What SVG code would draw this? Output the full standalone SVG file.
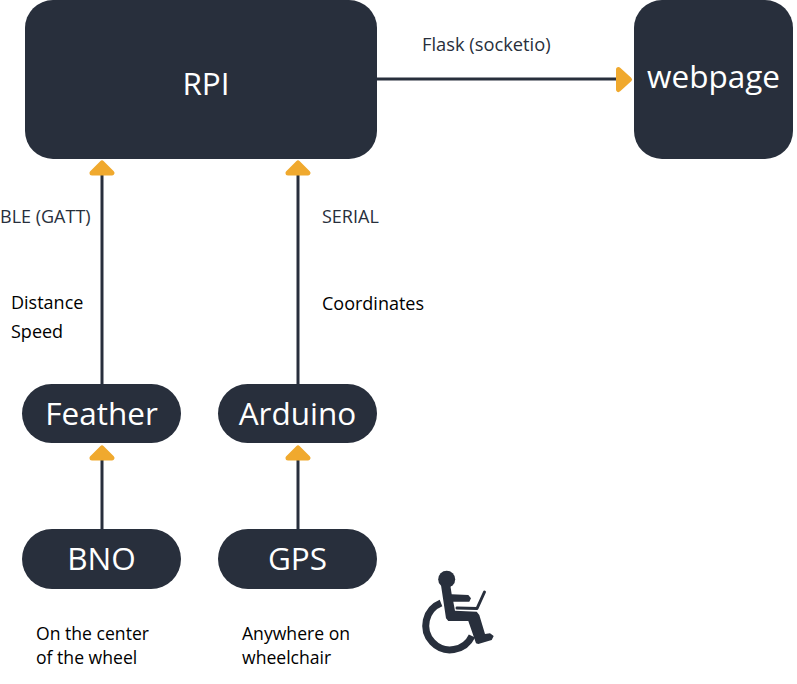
<svg xmlns="http://www.w3.org/2000/svg" width="797" height="684" viewBox="0 0 797 684">
<style>
.n{fill:#282f3c}
.t{font-family:"Open Sans","Noto Sans",sans-serif;fill:#fff;text-anchor:middle;font-size:31.500px}
.l{font-family:"Open Sans","Noto Sans",sans-serif;font-size:18px}
.s{font-size:17.600px}
.c{stroke:#282f3c;fill:none}
.a{fill:#f0a92e;stroke:#f0a92e;stroke-width:5;stroke-linejoin:round}
.g{fill:#282f3c}
</style>
<rect width="797" height="684" fill="#fff"/>
<g id="connectors">
<path class="c" stroke-width="3" d="M377 79H618"/><path class="a" d="M618.500 69.500L629.500 79.500L618.500 89.500Z"/>
<path class="c" stroke-width="3" d="M102 384V175"/><path class="a" d="M92 173L102 163L112 173Z"/>
<path class="c" stroke-width="3" d="M298 384V175"/><path class="a" d="M288 173L298 163L308 173Z"/>
<path class="c" stroke-width="3" d="M102 529V460"/><path class="a" d="M92 458L102 448L112 458Z"/>
<path class="c" stroke-width="3" d="M298 529V460"/><path class="a" d="M288 458L298 448L308 458Z"/>
</g>
<g id="rpi"><rect class="n" x="25" y="0" width="352" height="159" rx="28"/><text class="t" x="206" y="95">RPI</text></g>
<g id="webpage"><rect class="n" x="634" y="0" width="159" height="159" rx="28"/><text class="t" x="713.500" y="88">webpage</text></g>
<g id="feather"><rect class="n" x="22" y="384" width="159" height="59" rx="29.500"/><text class="t" x="101.500" y="425">Feather</text></g>
<g id="arduino"><rect class="n" x="218" y="384" width="159" height="59" rx="29.500"/><text class="t" x="297.500" y="425">Arduino</text></g>
<g id="bno"><rect class="n" x="22" y="529" width="159" height="60" rx="30"/><text class="t" x="101.500" y="570">BNO</text></g>
<g id="gps"><rect class="n" x="218" y="529" width="159" height="60" rx="30"/><text class="t" x="297.500" y="570">GPS</text></g>
<g id="labels">
<text class="l" x="422" y="51" fill="#282f3c" style="font-size:18.300px">Flask (socketio)</text>
<text class="l" x="0" y="223" fill="#282f3c">BLE (GATT)</text>
<text class="l" x="322" y="223" fill="#282f3c">SERIAL</text>
<text class="l" x="11" y="309" fill="#000">Distance</text>
<text class="l" x="11" y="338" fill="#000">Speed</text>
<text class="l" x="322" y="310" fill="#000">Coordinates</text>
<text class="l s" x="36" y="640" fill="#000">On the center</text>
<text class="l s" x="36" y="664" fill="#000">of the wheel</text>
<text class="l s" x="242" y="640" fill="#000">Anywhere on</text>
<text class="l s" x="242" y="664" fill="#000">wheelchair</text>
</g>
<g id="wheelchair">
<circle class="g" cx="446.700" cy="579.300" r="8.500"/>
<path class="g" d="M440.700 583.300L446 618.300L448.300 621L468.300 621L476 643.300L478.300 644L491.700 640L493.700 636L490 633.300L485 634L479.300 615L476.700 611.700L455 610.700L453.300 601.700L469.300 601.700L471 598.300L468.300 595L451.700 594.300L450 583.300Z"/>
<path d="M457 608L477 608.500L484.500 592" fill="none" stroke="#282f3c" stroke-width="3" stroke-linecap="round" stroke-linejoin="round"/>
<path d="M441 603A24.300 24.300 0 1 0 472 636" fill="none" stroke="#282f3c" stroke-width="7"/>
</g>
</svg>
